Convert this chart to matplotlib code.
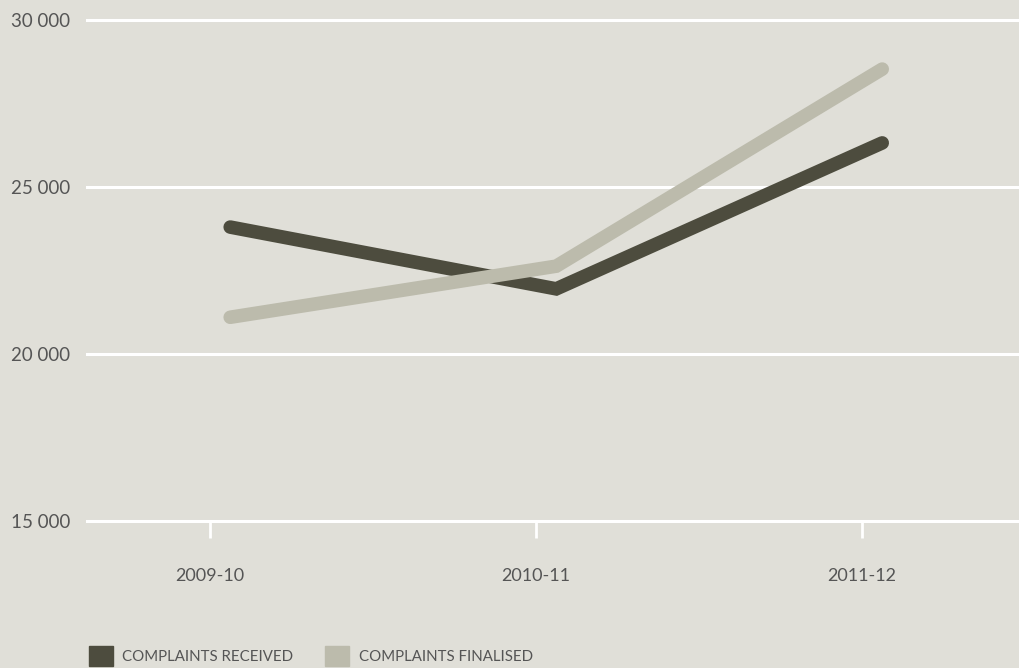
import matplotlib.pyplot as plt
from matplotlib.patches import Rectangle

years = ['2009-10', '2010-11', '2011-12']
received = [23800, 21950, 26320]
finalised = [21100, 22630, 28530]
y_ticks = [15000, 20000, 25000, 30000]
y_labels = ['15 000', '20 000', '25 000', '30 000']

bg = '#e0dfd8'
dark = '#4d4c3e'
light = '#bcbbac'
text_col = '#555555'

plt.rcParams['font.family'] = ['Lato', 'DejaVu Sans']

W, H = 1019, 668
fig = plt.figure(figsize=(W / 100, H / 100), dpi=100, facecolor=bg)
ax = fig.add_axes([87 / W, (H - 521) / H, (W - 87) / W, 501 / H])
ax.set_facecolor(bg)

x = list(range(len(years)))
shift = 0.062  # lines sit a little right of the ticks in the original
ax.set_xlim((87 - 210) / 326, (W - 210) / 326)
ax.set_ylim(15000, 30000)

for v in y_ticks:
    ax.axhline(v, color='white', lw=2.2, clip_on=False, zorder=1)

xs = [i + shift for i in x]
ax.plot(xs, received, color=dark, lw=9.8, solid_capstyle='round',
        solid_joinstyle='miter', zorder=3)
ax.plot(xs, finalised, color=light, lw=9.8, solid_capstyle='round',
        solid_joinstyle='miter', zorder=4)

for s in ax.spines.values():
    s.set_visible(False)

ax.set_xticks(x)
ax.set_xticklabels(years)
ax.tick_params(axis='x', colors='white', length=12, width=2, pad=22,
               labelcolor=text_col, labelsize=13)
ax.set_yticks(y_ticks)
ax.set_yticklabels(y_labels)
ax.tick_params(axis='y', length=0, pad=12, labelcolor=text_col, labelsize=13.5)

# legend
fig.add_artist(Rectangle((89 / W, 2 / H), 24 / W, 20 / H, transform=fig.transFigure,
                         color=dark))
fig.text(122 / W, 11 / H, 'COMPLAINTS RECEIVED', color=text_col, fontsize=10.8,
         va='center')
fig.add_artist(Rectangle((325 / W, 2 / H), 24 / W, 20 / H, transform=fig.transFigure,
                         color=light))
fig.text(359 / W, 11 / H, 'COMPLAINTS FINALISED', color=text_col, fontsize=10.8,
         va='center')

fig.savefig('out.png', dpi=100, facecolor=bg)
